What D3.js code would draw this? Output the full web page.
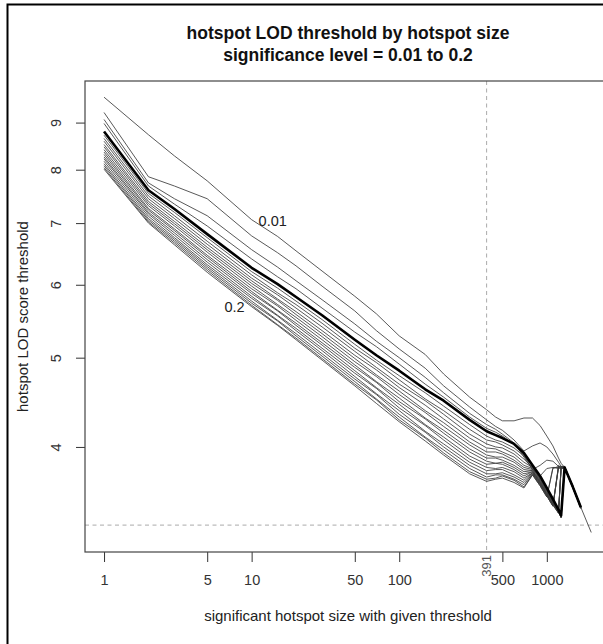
<!DOCTYPE html>
<html>
<head>
<meta charset="utf-8">
<script src="https://cdn.jsdelivr.net/npm/d3@7"></script>
<style>
  body { margin: 0; background: #fff; }
  svg { display: block; font-family: "Liberation Sans", Arial, sans-serif; }
</style>
</head>
<body>
<svg id="chart" width="603" height="644"></svg>
<script>
// hotspot sizes the quantile curves are read at
var sizes = [1, 2, 3, 5, 10, 15, 20, 30, 50, 70, 100, 150, 200, 300, 391, 450, 500, 600, 700,
             800, 900, 1000, 1100, 1200, 1250, 1320, 1500, 1700, 2000]

var alphaLevels = [0.01, 0.02, 0.03, 0.04, 0.05, 0.06, 0.07, 0.08, 0.09, 0.10,
                   0.11, 0.12, 0.13, 0.14, 0.15, 0.16, 0.17, 0.18, 0.19, 0.20]

// LOD threshold per alpha level, one value per entry of sizes
var lod01 = [9.59, 8.73, 8.28, 7.78, 7.06, 6.77, 6.53, 6.21, 5.83, 5.58, 5.28, 5.04, 4.80, 4.53, 4.39, 4.31, 4.27, 4.27, 4.30, 4.30, 4.22, 4.11, 4.01, 3.89, 3.84, 3.80, 3.62, 3.44, null]
var lod02 = [9.23, 7.86, 7.68, 7.44, 6.78, 6.50, 6.29, 5.98, 5.62, 5.35, 5.11, 4.87, 4.66, 4.42, 4.28, 4.21, 4.17, 4.07, 3.96, 4.01, 4.04, 4.00, 3.93, 3.85, 3.81, 3.80, 3.63, 3.45, null]
var lod03 = [9.07, 7.74, 7.44, 7.13, 6.55, 6.27, 6.06, 5.78, 5.44, 5.21, 5.00, 4.76, 4.58, 4.35, 4.23, 4.18, 4.13, 4.04, 3.90, 3.78, 3.82, 3.87, 3.86, 3.81, 3.80, 3.80, 3.62, 3.44, null]
var lod04 = [8.98, 7.68, 7.34, 6.95, 6.40, 6.12, 5.94, 5.66, 5.33, 5.14, 4.92, 4.68, 4.53, 4.31, 4.19, 4.15, 4.11, 4.03, 3.92, 3.78, 3.72, 3.79, 3.80, 3.80, 3.79, 3.80, 3.62, 3.44, null]
var lod05 = [8.80, 7.60, 7.25, 6.81, 6.26, 6.01, 5.82, 5.56, 5.23, 5.03, 4.84, 4.62, 4.49, 4.28, 4.16, 4.12, 4.09, 4.03, 3.94, 3.82, 3.72, 3.61, 3.51, 3.42, 3.37, 3.80, 3.62, 3.44, null]
var lod06 = [8.72, 7.54, 7.19, 6.75, 6.20, 5.95, 5.76, 5.50, 5.17, 4.97, 4.78, 4.58, 4.43, 4.23, 4.11, 4.07, 4.05, 3.99, 3.91, 3.81, 3.71, 3.60, 3.50, 3.41, 3.36, 3.81, 3.62, 3.44, null]
var lod07 = [8.65, 7.49, 7.13, 6.69, 6.15, 5.88, 5.71, 5.45, 5.12, 4.94, 4.73, 4.51, 4.38, 4.18, 4.07, 4.05, 4.02, 3.96, 3.88, 3.80, 3.70, 3.60, 3.49, 3.41, 3.36, 3.79, 3.61, 3.44, null]
var lod08 = [8.59, 7.44, 7.08, 6.64, 6.10, 5.85, 5.66, 5.40, 5.08, 4.88, 4.68, 4.49, 4.34, 4.13, 4.03, 4.00, 3.99, 3.93, 3.85, 3.80, 3.69, 3.59, 3.49, 3.40, 3.35, 3.80, 3.62, 3.43, null]
var lod09 = [8.52, 7.39, 7.03, 6.59, 6.06, 5.79, 5.61, 5.35, 5.03, 4.85, 4.64, 4.44, 4.29, 4.09, 3.99, 3.98, 3.95, 3.90, 3.82, 3.79, 3.69, 3.58, 3.48, 3.40, 3.35, 3.80, 3.61, 3.44, null]
var lod10 = [8.47, 7.35, 6.99, 6.55, 6.02, 5.77, 5.57, 5.31, 4.99, 4.79, 4.60, 4.38, 4.25, 4.05, 3.95, 3.95, 3.93, 3.87, 3.80, 3.78, 3.68, 3.58, 3.48, 3.40, 3.79, 3.80, 3.62, 3.44, null]
var lod11 = [8.41, 7.31, 6.95, 6.51, 5.98, 5.71, 5.53, 5.27, 4.95, 4.77, 4.56, 4.36, 4.21, 4.02, 3.92, 3.90, 3.90, 3.85, 3.78, 3.77, 3.67, 3.57, 3.47, 3.39, 3.80, 3.80, 3.62, 3.43, null]
var lod12 = [8.36, 7.26, 6.90, 6.46, 5.94, 5.69, 5.49, 5.23, 4.91, 4.71, 4.52, 4.30, 4.17, 3.98, 3.89, 3.89, 3.87, 3.82, 3.76, 3.77, 3.67, 3.56, 3.47, 3.40, 3.81, 3.81, 3.63, 3.44, null]
var lod13 = [8.31, 7.23, 6.87, 6.43, 5.90, 5.63, 5.45, 5.19, 4.88, 4.70, 4.48, 4.29, 4.14, 3.95, 3.86, 3.84, 3.85, 3.80, 3.74, 3.76, 3.66, 3.56, 3.46, 3.39, 3.79, 3.80, 3.62, 3.44, null]
var lod14 = [8.26, 7.19, 6.83, 6.39, 5.87, 5.62, 5.42, 5.16, 4.84, 4.64, 4.45, 4.23, 4.10, 3.91, 3.83, 3.84, 3.83, 3.78, 3.72, 3.76, 3.66, 3.55, 3.46, 3.39, 3.80, 3.80, 3.62, 3.44, null]
var lod15 = [8.22, 7.16, 6.79, 6.35, 5.83, 5.56, 5.38, 5.12, 4.81, 4.63, 4.41, 4.22, 4.07, 3.88, 3.80, 3.79, 3.80, 3.76, 3.70, 3.75, 3.65, 3.55, 3.46, 3.80, 3.79, 3.80, 3.61, 3.43, null]
var lod16 = [8.17, 7.12, 6.75, 6.31, 5.80, 5.55, 5.35, 5.09, 4.77, 4.57, 4.38, 4.16, 4.03, 3.85, 3.77, 3.78, 3.78, 3.73, 3.68, 3.75, 3.65, 3.54, 3.45, 3.82, 3.80, 3.81, 3.62, 3.44, null]
var lod17 = [8.12, 7.08, 6.72, 6.28, 5.76, 5.49, 5.31, 5.05, 4.74, 4.56, 4.34, 4.15, 4.00, 3.82, 3.74, 3.74, 3.75, 3.71, 3.66, 3.74, 3.64, 3.54, 3.45, 3.81, 3.80, 3.80, 3.62, 3.44, null]
var lod18 = [8.08, 7.05, 6.69, 6.25, 5.73, 5.48, 5.28, 5.02, 4.71, 4.51, 4.31, 4.10, 3.97, 3.79, 3.71, 3.73, 3.73, 3.69, 3.64, 3.74, 3.64, 3.54, 3.45, 3.80, 3.81, 3.80, 3.62, 3.44, null]
var lod19 = [8.04, 7.02, 6.66, 6.22, 5.70, 5.43, 5.25, 4.99, 4.68, 4.50, 4.28, 4.09, 3.94, 3.76, 3.69, 3.70, 3.72, 3.68, 3.62, 3.73, 3.63, 3.53, 3.80, 3.79, 3.80, 3.80, 3.62, 3.44, null]
var lod20 = [8.01, 7.00, 6.63, 6.19, 5.68, 5.42, 5.23, 4.97, 4.66, 4.46, 4.26, 4.06, 3.92, 3.74, 3.67, 3.69, 3.70, 3.66, 3.61, 3.73, 3.63, 3.53, 3.79, 3.81, 3.80, 3.80, 3.62, 3.44, 3.23]

var xTicks = [1, 5, 10, 50, 100, 500, 1000]
var yTicks = [4, 5, 6, 7, 8, 9]

var xLimits = [0.743, 2722]
var yLimits = [3.076, 9.986]

var lodThreshold = 3.29
var sizeThreshold = 391

var curveLabels = [
  { text: "0.01", size: 13.9, lod: 7.04 },
  { text: "0.2", size: 7.66, lod: 5.68 }
]

var lodSeries = [lod01, lod02, lod03, lod04, lod05, lod06, lod07, lod08, lod09, lod10,
                 lod11, lod12, lod13, lod14, lod15, lod16, lod17, lod18, lod19, lod20]

var chart = (function(){
  "use strict"

  var chart = {}
  var plot = { left: 85, top: 81, right: 611, bottom: 552 }
  var midX = (plot.left + plot.right) / 2

  var x = d3.scaleLog().domain(xLimits).range([plot.left, plot.right])
  var y = d3.scaleLog().domain(yLimits).range([plot.bottom, plot.top])

  chart.drawFrame = function(svg) {
    svg.append("rect")
      .attr("x", 7.5).attr("y", 4.5)
      .attr("width", 700).attr("height", 700)
      .attr("fill", "none")
      .attr("stroke", "#000")
      .attr("stroke-width", 2)

    svg.append("text")
      .attr("x", midX).attr("y", 38.5)
      .attr("text-anchor", "middle")
      .attr("font-size", 17.5).attr("font-weight", "bold")
      .attr("fill", "#111")
      .text("hotspot LOD threshold by hotspot size")

    svg.append("text")
      .attr("x", midX).attr("y", 60.5)
      .attr("text-anchor", "middle")
      .attr("font-size", 17.5).attr("font-weight", "bold")
      .attr("fill", "#111")
      .text("significance level = 0.01 to 0.2")
  }

  chart.drawAxes = function(svg) {
    var xAxis = svg.append("g")
      .attr("transform", "translate(0," + plot.bottom + ")")
      .call(d3.axisBottom(x).tickValues(xTicks).tickFormat(d3.format("d")).tickSize(10))

    xAxis.select(".domain").remove()
    xAxis.selectAll("line").attr("stroke", "#333")
    xAxis.selectAll("text")
      .attr("y", 33).attr("dy", null)
      .attr("font-size", 14.5)
      .attr("font-family", "Liberation Sans, Arial, sans-serif")
      .attr("fill", "#333")

    var yAxis = svg.append("g")
      .attr("transform", "translate(" + plot.left + ",0)")
      .call(d3.axisLeft(y).tickValues(yTicks).tickFormat(d3.format("d")).tickSize(9))

    yAxis.select(".domain").remove()
    yAxis.selectAll("line").attr("stroke", "#333")
    yAxis.selectAll("text")
      .attr("x", null).attr("dy", null)
      .attr("transform", "translate(-24,0) rotate(-90)")
      .attr("text-anchor", "middle")
      .attr("font-size", 14.5)
      .attr("font-family", "Liberation Sans, Arial, sans-serif")
      .attr("fill", "#333")

    svg.append("rect")
      .attr("x", plot.left).attr("y", plot.top)
      .attr("width", plot.right - plot.left)
      .attr("height", plot.bottom - plot.top)
      .attr("fill", "none")
      .attr("stroke", "#444")
      .attr("stroke-width", 1.2)

    svg.append("text")
      .attr("x", midX).attr("y", 621)
      .attr("text-anchor", "middle")
      .attr("font-size", 15)
      .attr("fill", "#222")
      .text("significant hotspot size with given threshold")

    svg.append("text")
      .attr("transform", "translate(28," + (plot.top + plot.bottom) / 2 + ") rotate(-90)")
      .attr("text-anchor", "middle")
      .attr("font-size", 15)
      .attr("fill", "#222")
      .text("hotspot LOD score threshold")
  }

  chart.drawThresholds = function(svg) {
    svg.append("line")
      .attr("x1", plot.left).attr("x2", plot.right)
      .attr("y1", y(lodThreshold)).attr("y2", y(lodThreshold))
      .attr("stroke", "#aaa")
      .attr("stroke-dasharray", "4,3.5")

    svg.append("line")
      .attr("x1", x(sizeThreshold)).attr("x2", x(sizeThreshold))
      .attr("y1", plot.top).attr("y2", plot.bottom)
      .attr("stroke", "#aaa")
      .attr("stroke-dasharray", "4,3.5")

    svg.append("text")
      .attr("transform", "translate(" + (x(sizeThreshold) + 4.6) + "," + (plot.bottom + 3) + ") rotate(-90)")
      .attr("text-anchor", "end")
      .attr("font-size", 13)
      .attr("fill", "#555")
      .text(sizeThreshold)
  }

  chart.drawCurves = function(svg) {
    var line = d3.line()
      .defined(function(d){ return d[1] != null })
      .x(function(d){ return x(d[0]) })
      .y(function(d){ return y(d[1]) })

    var curves = lodSeries.map(function(values, i) {
      return {
        alpha: alphaLevels[i],
        points: sizes.map(function(s, j){ return [s, values[j]] })
      }
    })
    // draw the highlighted 0.05 curve last so it sits on top
    curves.sort(function(a, b){ return (a.alpha === 0.05) - (b.alpha === 0.05) })

    svg.append("g")
      .selectAll("path")
      .data(curves)
      .enter().append("path")
      .attr("d", function(c){ return line(c.points) })
      .attr("fill", "none")
      .attr("stroke", function(c){ return c.alpha === 0.05 ? "#000" : "#3c3c3c" })
      .attr("stroke-width", function(c){ return c.alpha === 0.05 ? 2.6 : 1 })
      .attr("stroke-opacity", function(c){ return c.alpha === 0.05 ? 1 : 0.85 })
      .attr("stroke-linejoin", "round")

    svg.append("g")
      .selectAll("text")
      .data(curveLabels)
      .enter().append("text")
      .attr("x", function(d){ return x(d.size) })
      .attr("y", function(d){ return y(d.lod) })
      .attr("dy", "0.35em")
      .attr("text-anchor", "middle")
      .attr("font-size", 14.5)
      .attr("fill", "#222")
      .text(function(d){ return d.text })
  }

  chart.init = function() {
    var svg = d3.select("#chart")
    chart.drawFrame(svg)
    chart.drawThresholds(svg)
    chart.drawCurves(svg)
    chart.drawAxes(svg)
  }

  return chart
})()

chart.init()
</script>
</body>
</html>
